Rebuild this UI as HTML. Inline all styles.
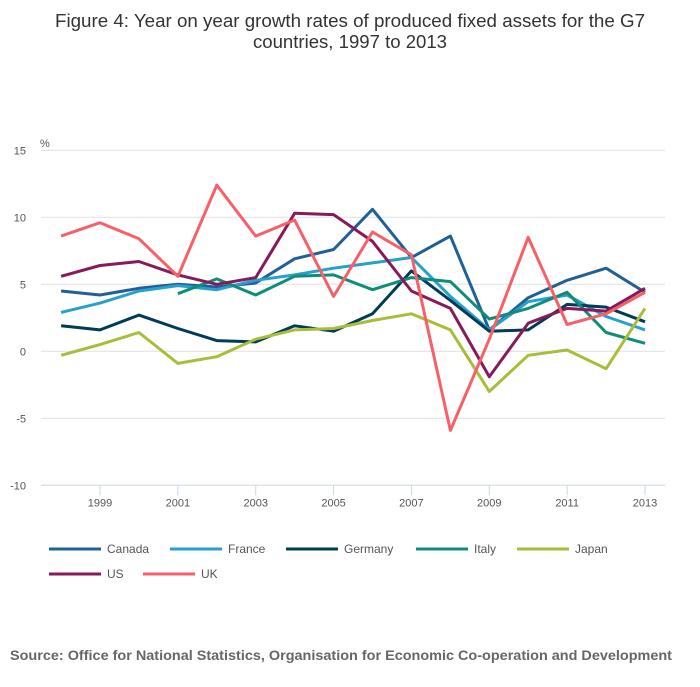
<!DOCTYPE html>
<html><head><meta charset="utf-8"><style>
body{margin:0;background:#fff;font-family:"Liberation Sans",sans-serif;}
svg text{font-family:"Liberation Sans",sans-serif;}
</style></head><body>
<svg width="700" height="682">
<text x="350" y="27" text-anchor="middle" font-size="18" fill="#333" textLength="590" lengthAdjust="spacingAndGlyphs">Figure 4: Year on year growth rates of produced fixed assets for the G7</text>
<text x="350" y="48" text-anchor="middle" font-size="18" fill="#333" textLength="194" lengthAdjust="spacingAndGlyphs">countries, 1997 to 2013</text>
<g id="grid"></g><g id="axis"></g><g id="series"></g><g id="legend"></g>
<text x="341" y="660" text-anchor="middle" font-size="14" font-weight="bold" fill="#666" textLength="662" lengthAdjust="spacingAndGlyphs">Source: Office for National Statistics, Organisation for Economic Co-operation and Development</text>
</svg>
<script>
const years=[1998,1999,2000,2001,2002,2003,2004,2005,2006,2007,2008,2009,2010,2011,2012,2013];
const yTicks=[15,10,5,0,-5,-10];
const xTickLabels=[1999,2001,2003,2005,2007,2009,2011,2013];
const seriesNames=["Canada","France","Germany","Italy","Japan","US","UK"];
const canada=[4.5,4.2,4.7,5.0,4.8,5.1,6.9,7.6,10.6,7.0,8.6,1.6,4.0,5.3,6.2,4.4];
const france=[2.9,3.6,4.5,4.9,4.6,5.3,5.7,6.2,6.6,7.0,4.1,1.6,3.7,4.2,2.6,1.6];
const germany=[1.9,1.6,2.7,1.7,0.8,0.7,1.9,1.5,2.8,6.0,3.8,1.5,1.6,3.5,3.3,2.2];
const italy=[null,null,null,4.3,5.4,4.2,5.6,5.7,4.6,5.5,5.2,2.4,3.2,4.4,1.4,0.6];
const japan=[-0.3,0.5,1.4,-0.9,-0.4,0.9,1.6,1.7,2.3,2.8,1.6,-3.0,-0.3,0.1,-1.3,3.2];
const us=[5.6,6.4,6.7,5.7,5.0,5.5,10.3,10.2,8.2,4.5,3.2,-1.9,2.1,3.2,3.0,4.7];
const uk=[8.6,9.6,8.4,5.6,12.4,8.6,9.8,4.1,8.9,7.2,-5.9,0.9,8.5,2.0,2.8,4.4];
const colors=["#206095","#27a0cc","#003c57","#118c7b","#a8bd3a","#871a5b","#f66068"];
const allSeries=[canada,france,germany,italy,japan,us,uk];
const NS="http://www.w3.org/2000/svg";
const X=y=>100+(y-1999)*(545/14);
const Y=v=>351.3-v*13.4;
function mk(t,a,p){const e=document.createElementNS(NS,t);for(const k in a)e.setAttribute(k,a[k]);p.appendChild(e);return e;}
const grid=document.getElementById('grid'),axis=document.getElementById('axis'),ser=document.getElementById('series'),leg=document.getElementById('legend');
yTicks.forEach(t=>{
 if(t!==-10){const l=mk('line',{x1:41,x2:665,y1:Y(t),y2:Y(t),stroke:'#e0e0e0','stroke-width':1},grid);
 
 }
 const tx=mk('text',{x:26,y:Y(t)+4,'text-anchor':'end','font-size':11,fill:'#555'},axis);tx.textContent=t;
 
 
});
const pct=mk('text',{x:40,y:147,'font-size':11,fill:'#555'},axis);pct.textContent='%';


const ax=mk('line',{x1:41,x2:665,y1:Y(-10),y2:Y(-10),stroke:'#ccd6eb','stroke-width':1},axis);


xTickLabels.forEach(yr=>{
 const tk=mk('line',{x1:X(yr),x2:X(yr),y1:Y(-10),y2:Y(-10)+10,stroke:'#ccd6eb'},axis);
 
 
 const tx=mk('text',{x:X(yr),y:Y(-10)+21,'text-anchor':'middle','font-size':11,fill:'#555'},axis);tx.textContent=yr;
 
 
});
allSeries.forEach((s,i)=>{
 let d='';let started=false;
 s.forEach((v,j)=>{if(v===null)return;d+=(started?'L':'M')+X(years[j]).toFixed(1)+','+Y(v).toFixed(1);started=true;});
 const p=mk('path',{d:d,fill:'none',stroke:colors[i],'stroke-width':3,'stroke-linejoin':'round'},ser);
 
 
});
const legPos=[[49,549],[170,549],[286,549],[416,549],[517,549],[49,574],[143,574]];
seriesNames.forEach((n,i)=>{
 const [lx,ly]=legPos[i];
 const g=mk('g',{},leg);
 
 
 mk('line',{x1:lx,x2:lx+52,y1:ly,y2:ly,stroke:colors[i],'stroke-width':3},g);
 const t=mk('text',{x:lx+58,y:ly+4,'font-size':12,fill:'#555'},g);t.textContent=n;
});
</script>
</body></html>
